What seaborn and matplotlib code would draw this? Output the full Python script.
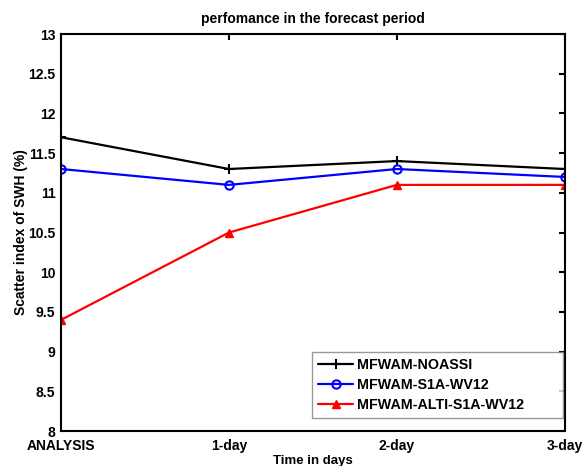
import seaborn as sns
import matplotlib.pyplot as plt

sns.set_style("white")
plt.rcParams['font.family'] = ['Liberation Sans', 'DejaVu Sans']
plt.rcParams['font.weight'] = 'bold'
plt.rcParams['text.color'] = 'black'
plt.rcParams['axes.labelcolor'] = 'black'
plt.rcParams['xtick.color'] = 'black'
plt.rcParams['ytick.color'] = 'black'

# values
periods = ["ANALYSIS", "1-day", "2-day", "3-day"]
noassi = [11.7, 11.3, 11.4, 11.3]
s1a_wv12 = [11.3, 11.1, 11.3, 11.2]
alti_s1a_wv12 = [9.4, 10.5, 11.1, 11.1]
names = ["MFWAM-NOASSI", "MFWAM-S1A-WV12", "MFWAM-ALTI-S1A-WV12"]

fig = plt.figure(figsize=(5.84, 4.66), dpi=100)
ax = fig.add_axes([0.1045, 0.075, 0.8625, 0.852])

styles = [
    (noassi, dict(color="black", marker="+", markersize=7, markeredgewidth=1.5,
                  markeredgecolor="black")),
    (s1a_wv12, dict(color="blue", marker="o", markersize=6, markeredgewidth=1.5,
                    markerfacecolor="none", markeredgecolor="blue")),
    (alti_s1a_wv12, dict(color="red", marker="^", markersize=6, markeredgewidth=1,
                         markeredgecolor="red")),
]
for name, (vals, kw) in zip(names, styles):
    sns.lineplot(x=periods, y=vals, label=name, linewidth=1.6, ax=ax, **kw)

ax.set_xlim(0, 3)
ax.set_ylim(8, 13)
ax.set_yticks([8, 8.5, 9, 9.5, 10, 10.5, 11, 11.5, 12, 12.5, 13])
ax.set_yticklabels(["8", "8.5", "9", "9.5", "10", "10.5", "11", "11.5", "12", "12.5", "13"])
ax.tick_params(direction="in", top=True, right=True, length=4, width=1.5,
               labelsize=10)
ax.tick_params(axis="x", pad=6)
ax.tick_params(axis="y", pad=4)
for lab in ax.get_xticklabels() + ax.get_yticklabels():
    lab.set_fontweight("bold")
for sp in ax.spines.values():
    sp.set_linewidth(1.5)
    sp.set_color("black")

ax.set_title("perfomance in the forecast period", fontsize=10, fontweight="bold", pad=8)
ax.set_xlabel("Time in days", fontsize=9.5, fontweight="bold", labelpad=1)
ax.set_ylabel("Scatter index of SWH (%)", fontsize=10, fontweight="bold", labelpad=0)

# MATLAB-style legend box, wider than its text
leg = ax.legend(loc="lower left", mode="expand", fontsize=10.25, frameon=True,
                fancybox=False, edgecolor="gray", handlelength=2.45,
                borderpad=0.45, labelspacing=0.4, handletextpad=0.3,
                borderaxespad=0, bbox_to_anchor=(0.498, 0.033, 0.498, 0.1))
leg.get_frame().set_linewidth(1)
for t in leg.get_texts():
    t.set_fontweight("bold")

fig.savefig("out.png", dpi=100)
